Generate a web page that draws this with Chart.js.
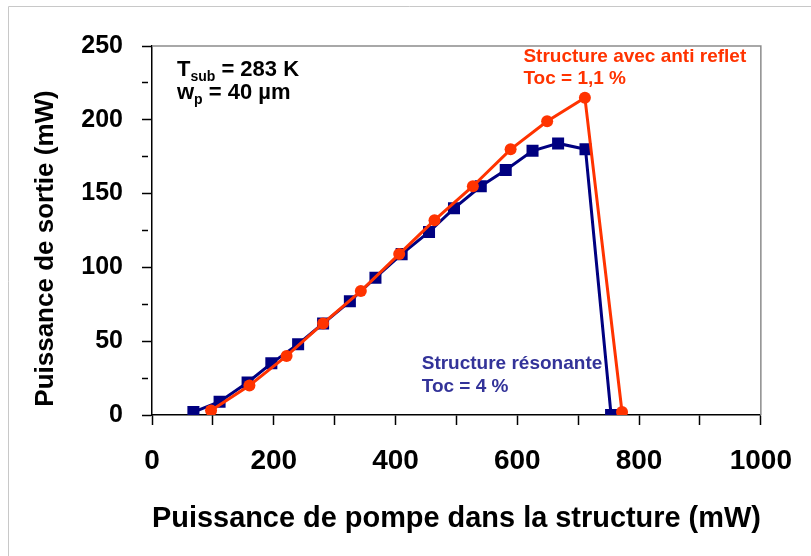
<!DOCTYPE html>
<html>
<head>
<meta charset="utf-8">
<script src="https://cdn.jsdelivr.net/npm/chart.js@4.4.1/dist/chart.umd.min.js"></script>
<style>
  body { margin: 0; background: #fff; }
  canvas { display: block; }
</style>
</head>
<body>
<canvas id="puissance" width="811" height="556"></canvas>
<script>
// structure résonante, Toc = 4 % : pompe (mW) -> sortie (mW)
const pompeResonante = [68, 111, 157, 196, 240, 281, 325, 367, 410, 455, 496, 540, 581, 625, 667, 712, 754];
const sortieResonante = [2, 9, 22, 35, 48, 62, 77, 93, 109, 124, 140, 155, 166, 179, 184, 180, 0];

// structure avec anti reflet, Toc = 1,1 %
const pompeAntiReflet = [97, 160, 221, 281, 343, 406, 464, 527, 589, 649, 711, 772];
const sortieAntiReflet = [3, 20, 40, 62, 84, 109, 132, 155, 180, 199, 215, 2];

const xLabels = [0, 200, 400, 600, 800, 1000];
const yLabels = [0, 50, 100, 150, 200, 250];

const FONT = "'Liberation Sans', Arial, sans-serif";
const ROUGE = '#ff3300';
const MARINE = '#000080';

function toPoints(xs, ys) {
  return xs.map((x, i) => ({ x: x, y: ys[i] }));
}

// texts placed in data units: x in mW of pump, y in mW of output (baseline)
const notes = [
  { x: 41, y: 230, color: '#000000', size: 22, runs: [['T'], ['sub', true], [' = 283 K']] },
  { x: 41, y: 214, color: '#000000', size: 22, runs: [['w'], ['p', true], [' = 40 µm']] },
  { x: 610, y: 239, color: ROUGE, size: 19, runs: [['Structure avec anti reflet']] },
  { x: 610, y: 224, color: ROUGE, size: 19, runs: [['Toc = 1,1 %']] },
  { x: 443, y: 31.5, color: '#333399', size: 19, runs: [['Structure résonante']] },
  { x: 443, y: 15.8, color: '#333399', size: 19, runs: [['Toc = 4 %']] }
];

const notesPlugin = {
  id: 'notes',
  afterDatasetsDraw(chart) {
    const ctx = chart.ctx;
    const xs = chart.scales.x, ys = chart.scales.y;
    ctx.save();
    ctx.textBaseline = 'alphabetic';
    ctx.textAlign = 'left';
    notes.forEach(n => {
      let px = xs.getPixelForValue(n.x);
      const py = ys.getPixelForValue(n.y);
      ctx.fillStyle = n.color;
      n.runs.forEach(([txt, sub]) => {
        const size = sub ? Math.round(n.size * 0.64) : n.size;
        ctx.font = 'bold ' + size + 'px ' + FONT;
        ctx.fillText(txt, px, sub ? py + 5 : py);
        px += ctx.measureText(txt).width;
      });
    });
    ctx.restore();
  }
};

// vertical axis title, sitting a bit below the middle of the axis
const yTitlePlugin = {
  id: 'yTitle',
  afterDraw(chart) {
    const { top, bottom } = chart.chartArea;
    const ctx = chart.ctx;
    ctx.save();
    ctx.translate(46, (top + bottom) / 2 + 18);
    ctx.rotate(-Math.PI / 2);
    ctx.textAlign = 'center';
    ctx.textBaseline = 'middle';
    ctx.fillStyle = '#000';
    ctx.font = 'bold 26px ' + FONT;
    ctx.fillText('Puissance de sortie (mW)', 0, 0);
    ctx.restore();
  }
};

// grey frame on top and right of the plot, plus the page border
const framePlugin = {
  id: 'frame',
  beforeDatasetsDraw(chart) {
    const { left, right, top, bottom } = chart.chartArea;
    const ctx = chart.ctx;
    ctx.save();
    ctx.strokeStyle = '#8c8c8c';
    ctx.lineWidth = 1.5;
    ctx.beginPath();
    ctx.moveTo(left, top);
    ctx.lineTo(right, top);
    ctx.lineTo(right, bottom);
    ctx.stroke();
    ctx.strokeStyle = '#c8c8c8';
    ctx.lineWidth = 1;
    ctx.beginPath();
    ctx.moveTo(8.5, chart.height);
    ctx.lineTo(8.5, 6.5);
    ctx.lineTo(chart.width, 6.5);
    ctx.stroke();
    ctx.restore();
  }
};

new Chart(document.getElementById('puissance'), {
  type: 'scatter',
  data: {
    datasets: [
      {
        label: 'Structure avec anti reflet',
        data: toPoints(pompeAntiReflet, sortieAntiReflet),
        showLine: true,
        borderColor: ROUGE,
        backgroundColor: ROUGE,
        borderWidth: 3,
        pointStyle: 'circle',
        pointRadius: 6,
        pointBorderWidth: 0,
        tension: 0
      },
      {
        label: 'Structure résonante',
        data: toPoints(pompeResonante, sortieResonante),
        showLine: true,
        borderColor: MARINE,
        backgroundColor: MARINE,
        borderWidth: 3,
        pointStyle: 'rect',
        pointRadius: 8.5,
        pointBorderWidth: 0,
        tension: 0
      }
    ]
  },
  options: {
    responsive: false,
    animation: false,
    layout: { padding: { left: 0, top: 46, right: 45, bottom: 0 } },
    plugins: {
      legend: { display: false },
      tooltip: { enabled: false }
    },
    scales: {
      x: {
        type: 'linear',
        min: 0,
        max: 1000,
        afterFit(scale) { scale.height = 141; },
        border: { color: '#000', width: 1.5 },
        grid: { drawOnChartArea: false, color: '#000', tickLength: 10, tickWidth: 1.5 },
        ticks: {
          stepSize: 100,
          autoSkip: false,
          maxRotation: 0,
          padding: 19,
          color: '#000',
          font: { family: FONT, size: 28, weight: 'bold' },
          callback: v => xLabels.includes(v) ? String(v) : ''
        },
        title: {
          display: true,
          text: 'Puissance de pompe dans la structure (mW)',
          color: '#000',
          font: { family: FONT, size: 29, weight: 'bold' },
          padding: { top: 0, bottom: 20 }
        }
      },
      y: {
        type: 'linear',
        min: 0,
        max: 250,
        afterFit(scale) { scale.width = 152; },
        border: { color: '#000', width: 1.5 },
        grid: {
          drawOnChartArea: false,
          color: '#000',
          tickLength: 10,
          tickWidth: 1.5,
          // half-step ticks are shorter
          tickBorderDash: ctx => (ctx.tick && yLabels.includes(ctx.tick.value)) ? [] : [6, 20]
        },
        ticks: {
          stepSize: 25,
          autoSkip: false,
          padding: 19,
          color: '#000',
          font: { family: FONT, size: 25, weight: 'bold' },
          callback: v => yLabels.includes(v) ? String(v) : ''
        },
        title: { display: false }
      }
    }
  },
  plugins: [framePlugin, notesPlugin, yTitlePlugin]
});
</script>
</body>
</html>
